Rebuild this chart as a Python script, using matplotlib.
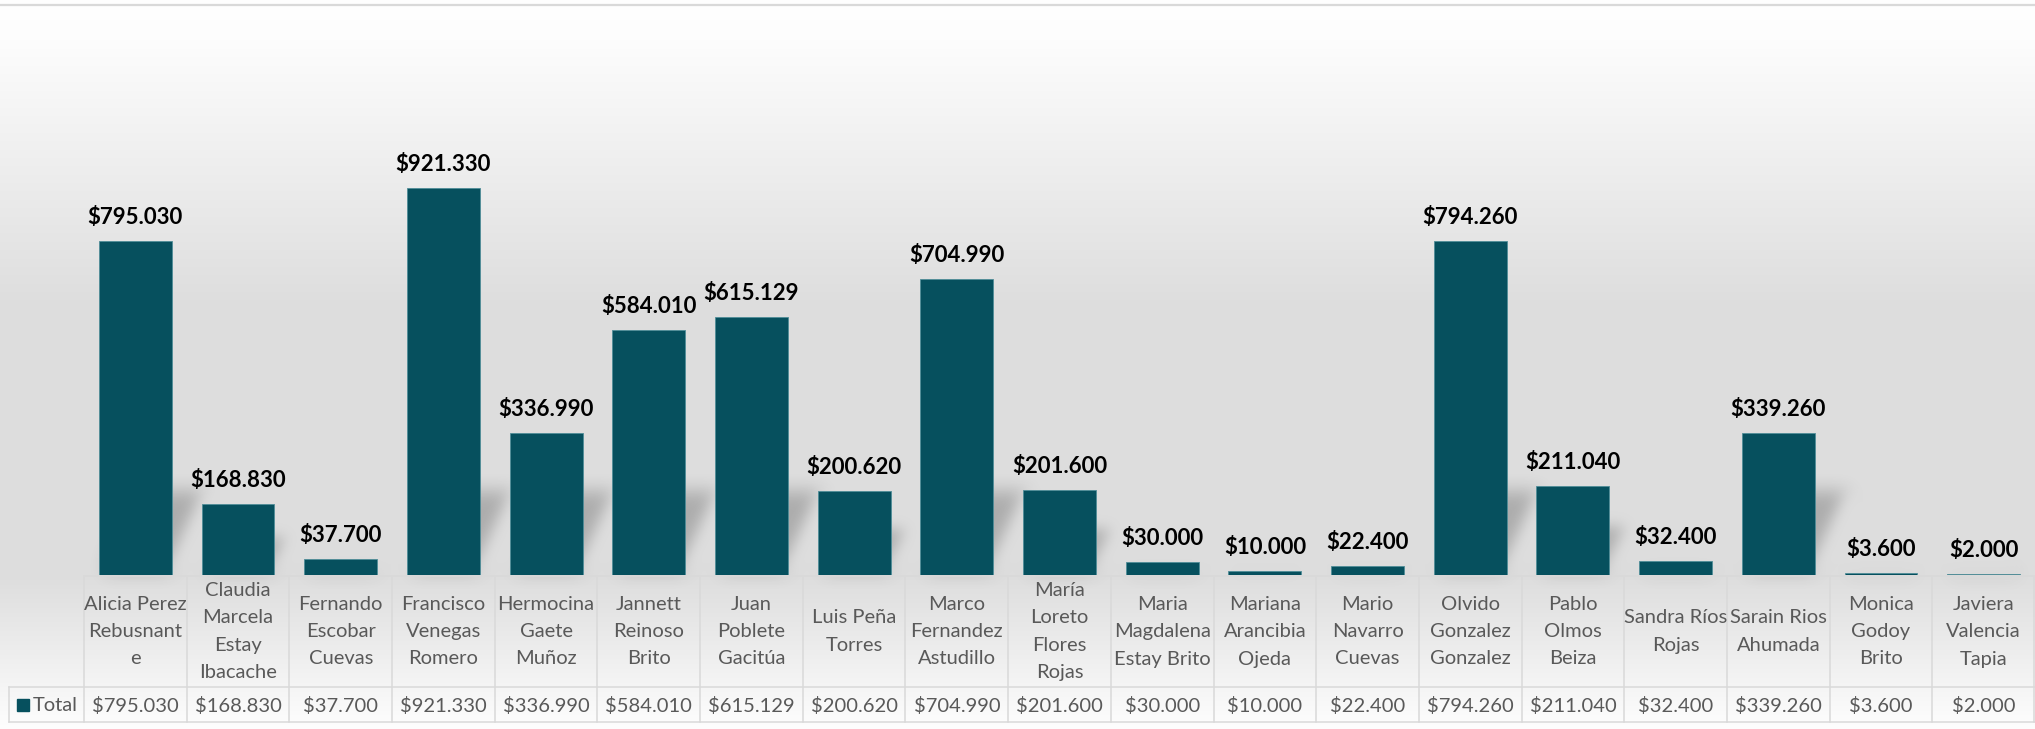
import numpy as np
import matplotlib
matplotlib.use('Agg')
import matplotlib.pyplot as plt
from matplotlib.patches import Polygon, Rectangle
from matplotlib.collections import PatchCollection

plt.rcParams['font.family'] = ['Lato', 'DejaVu Sans']

# data
names = ['Alicia Perez\nRebusnant\ne', 'Claudia\nMarcela\nEstay\nIbacache',
         'Fernando\nEscobar\nCuevas', 'Francisco\nVenegas\nRomero',
         'Hermocina\nGaete\nMuñoz', 'Jannett\nReinoso\nBrito',
         'Juan\nPoblete\nGacitúa', 'Luis Peña\nTorres',
         'Marco\nFernandez\nAstudillo', 'María\nLoreto\nFlores\nRojas',
         'Maria\nMagdalena\nEstay Brito', 'Mariana\nArancibia\nOjeda',
         'Mario\nNavarro\nCuevas', 'Olvido\nGonzalez\nGonzalez',
         'Pablo\nOlmos\nBeiza', 'Sandra Ríos\nRojas', 'Sarain Rios\nAhumada',
         'Monica\nGodoy\nBrito', 'Javiera\nValencia\nTapia']
totals = [795030, 168830, 37700, 921330, 336990, 584010, 615129, 200620,
          704990, 201600, 30000, 10000, 22400, 794260, 211040, 32400,
          339260, 3600, 2000]
series_name = 'Total'

bar_color = '#06505e'
text_gray = '#595959'
grid_gray = '#d9d9d9'


def money(v):
    return '$' + f'{v:,}'.replace(',', '.')


def box(a, r, axis):
    n = 2 * r + 1
    p = [(0, 0)] * a.ndim
    p[axis] = (r + 1, r)
    c = np.cumsum(np.pad(a, p), axis=axis)
    L = c.shape[axis]
    return (np.take(c, range(n, L), axis) - np.take(c, range(0, L - n), axis)) / n


def blur(im, dpi):
    r = 8
    pad = 4 * r
    a = np.pad(im, ((pad, pad), (pad, pad), (0, 0)))
    for axis in (0, 1):
        for _ in range(3):
            a = box(a, r, axis)
    return a, -pad, -pad


W, H = 2035, 729
fig = plt.figure(figsize=(W / 100, H / 100), dpi=100)

# background gradient of the chart area
bg = fig.add_axes([0, 0, 1, 1], zorder=0)
rows = np.arange(H)
shade = np.interp(rows, [0, 40, 300, 575, 729], [255, 253, 222, 221, 254]) / 255
bg.imshow(np.repeat(shade[:, None, None], 3, axis=2), aspect='auto',
          extent=(0, W, H, 0), interpolation='bilinear')
bg.set_xlim(0, W)
bg.set_ylim(H, 0)
bg.axis('off')
bg.plot([0, W], [5, 5], color=grid_gray, lw=1.6)

# plot area
left, right = 84, W
base_px, top_px = 575, 155
cw = (right - left) / len(totals)
ax = fig.add_axes([left / W, (H - base_px) / H, (right - left) / W,
                   (base_px - top_px) / H], zorder=1)
ax.patch.set_alpha(0)
ax.set_xlim(0, len(totals))
ax.set_ylim(0, 1_000_000)
ax.axis('off')

x = np.arange(len(totals)) + 0.5
bw = 0.71
px_per_y = (base_px - top_px) / 1_000_000

# soft perspective shadows behind the bars
shadows = []
for xi, v in zip(x, totals):
    hs = min(0.6 * v, 200000)
    d = 0.42 * hs * px_per_y / cw
    x0, x1 = xi - bw / 2, xi + bw / 2
    shadows.append(Polygon([(x0 + 0.05, 8000), (x1 - 0.02, 8000), (x1 + d, hs), (x0 + d, hs)]))
pc = PatchCollection(shadows, facecolor='black', edgecolor='none', alpha=0.22, zorder=2)
pc.set_agg_filter(blur)
ax.add_collection(pc)

ax.bar(x, totals, width=bw, color=bar_color, edgecolor='#4f8d98', linewidth=0.6, zorder=3)
for xi, v in zip(x, totals):
    ax.annotate(money(v), (xi, v), xytext=(0, 17), textcoords='offset pixels',
                ha='center', va='baseline', fontsize=16, fontweight='bold',
                color='black', zorder=4)

# data table below the plot
tab = fig.add_axes([0, 0, 1, 1], zorder=2)
tab.patch.set_alpha(0)
tab.set_xlim(0, W)
tab.set_ylim(H, 0)
tab.axis('off')
lw = 1.1
row1, row2, row3 = 576, 687, 722
tab.plot([left, right], [row1, row1], color=grid_gray, lw=lw)
tab.plot([9, right], [row2, row2], color=grid_gray, lw=lw)
tab.plot([9, right], [row3, row3], color=grid_gray, lw=lw)
tab.plot([9, 9], [row2, row3], color=grid_gray, lw=lw)
for k in range(len(totals) + 1):
    xb = min(left + k * cw, right - 1)
    tab.plot([xb, xb], [row1, row3], color=grid_gray, lw=lw)

for k, (name, v) in enumerate(zip(names, totals)):
    cx = left + (k + 0.5) * cw
    tab.text(cx, (row1 + row2) / 2, name, ha='center', va='center',
             fontsize=14.5, color=text_gray, linespacing=1.75)
    tab.text(cx, (row2 + row3) / 2 + 1, money(v), ha='center', va='center',
             fontsize=14.5, color=text_gray)

tab.add_patch(Rectangle((17, 699), 12, 12, color=bar_color))
tab.text(33, (row2 + row3) / 2 + 1, series_name, ha='left', va='center',
         fontsize=14.5, color=text_gray)

fig.savefig('out.png', dpi=100)
